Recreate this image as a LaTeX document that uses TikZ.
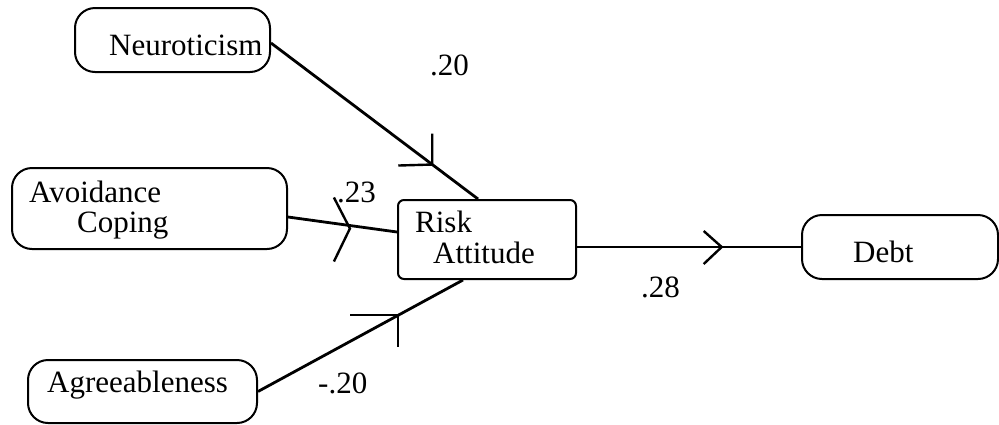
\documentclass[tikz,border=0pt]{standalone}
\usepackage{fontspec}
\setmainfont{Liberation Serif}
\begin{document}
\begin{tikzpicture}[x=1pt,y=-1pt,
  factor/.style={draw, line width=2pt, rounded corners=20pt, inner sep=0pt},
  riskbox/.style={draw, line width=2pt, rounded corners=6pt, inner sep=0pt},
  label/.style={anchor=base west, inner sep=0pt, font=\fontsize{31}{36}\selectfont},
  path/.style={line width=2.8pt},
  barb/.style={line width=2.4pt}
]
\useasboundingbox[fill=white] (0,0) rectangle (999,424);

% boxes
\node[factor, minimum width=195pt, minimum height=64pt] (neu) at (172.5,40) {};
\node[factor, minimum width=275pt, minimum height=81pt] (avo) at (149.5,208.5) {};
\node[factor, minimum width=229pt, minimum height=63pt] (agr) at (142.5,391.5) {};
\node[riskbox, minimum width=178pt, minimum height=79pt] (risk) at (487,239.5) {};
\node[factor, minimum width=196pt, minimum height=64pt] (debt) at (900,247) {};

% box texts
\node[label] (tneu) at (109,55) {Neuroticism};
\node[label] (tavo1) at (29,202) {Avoidance};
\node[label] (tavo2) at (77,232) {Coping};
\node[label] (tagr) at (47,392) {Agreeableness};
\node[label] (trisk1) at (415,232) {Risk};
\node[label] (trisk2) at (433,263) {Attitude};
\node[label] (tdebt) at (853,262) {Debt};

% path coefficients
\node[label] (c1) at (430,75) {.20};
\node[label] (c2) at (337,202) {.23};
\node[label] (c3) at (318,393) {-.20};
\node[label] (c4) at (641,297) {.28};

% connectors with mid-line arrowheads
\draw[path] ([yshift=-3pt]neu.east) -- coordinate[pos=0.779] (m1) ([xshift=-9pt]risk.north);
\draw[barb] (m1) ++(0,-31) -- (m1) -- ++(-34,1);

\draw[path] ([yshift=-8.5pt]avo.east) -- coordinate[pos=0.568] (m2) ([yshift=7.5pt]risk.west);
\draw[barb] (m2) ++(-16,-28) -- ([yshift=-3pt]m2) -- ++(-16,33);

\draw[path] (agr.east) -- coordinate[pos=0.684] (m3) ([xshift=-24pt]risk.south);
\draw[barb] (m3) ++(-48,0) -- (m3) -- ++(0,32);

\draw[path] ([yshift=-7.5pt]risk.east) -- coordinate[pos=0.646] (m4) (debt.west);
\draw[barb] (m4) ++(-18,-16) -- (m4) -- ++(-18,17);
\end{tikzpicture}
\end{document}
